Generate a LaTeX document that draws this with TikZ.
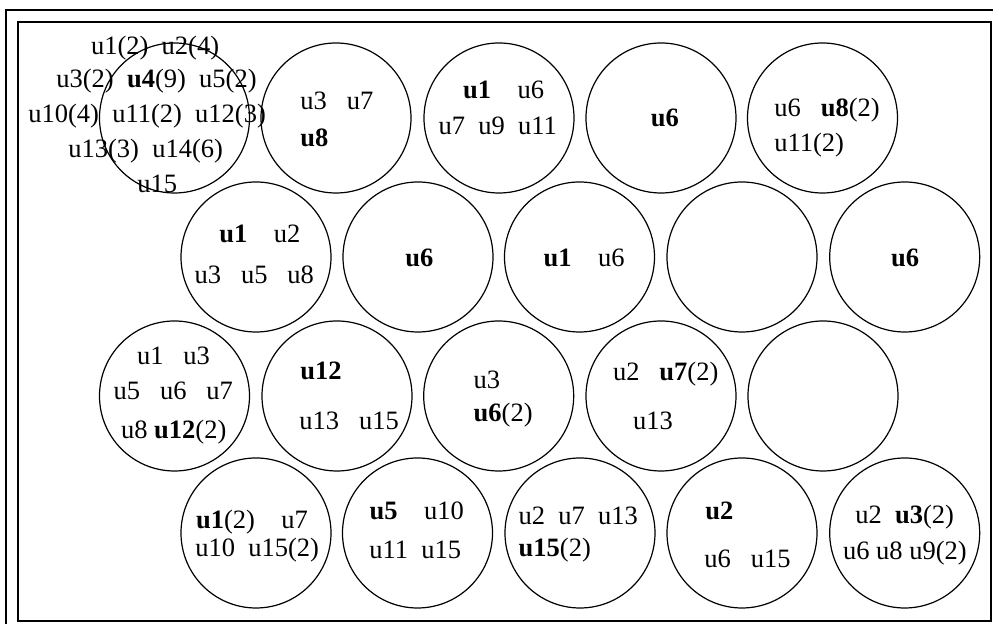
\documentclass[tikz,border=0pt]{standalone}
\usepackage{fontspec}
\setmainfont{Liberation Serif}
\usetikzlibrary{calc}

\begin{document}
\begin{tikzpicture}[x=0.5pt, y=-0.5pt,
                ring/.style={line width=0.6pt},
                frame/.style={line width=0.8pt},
                lbl/.style={anchor=base west, inner sep=0pt, font=\fontsize{13.25}{16}\selectfont}]
                \useasboundingbox (0,0) rectangle (993,624);
                \draw[frame] (6,624) -- (6,10) -- (993,10);
                \draw[frame] (18,22) rectangle (991,621);
                \coordinate (c11) at (174.5,118); \coordinate (c12) at (336,118);
                \coordinate (c13) at (499,118);   \coordinate (c14) at (661,118);
                \coordinate (c15) at (822.5,118);
                \coordinate (c21) at (256,257);   \coordinate (c22) at (418,257);
                \coordinate (c23) at (579.5,257); \coordinate (c24) at (742,257);
                \coordinate (c25) at (904.7,257);
                \coordinate (c31) at (174.5,396); \coordinate (c32) at (337,396);
                \coordinate (c33) at (498.7,396); \coordinate (c34) at (661,396);
                \coordinate (c35) at (823,396);
                \coordinate (c41) at (256,533);   \coordinate (c42) at (417.5,533);
                \coordinate (c43) at (580,533);   \coordinate (c44) at (742,533);
                \coordinate (c45) at (904.7,533);
                \draw[ring] (c11) circle (75) (c12) circle (75) (c13) circle (75) (c14) circle (75) (c15) circle (75);
                \draw[ring] (c21) circle (75) (c22) circle (75) (c23) circle (75) (c24) circle (75) (c25) circle (75);
                \draw[ring] (c31) circle (75) (c32) circle (75) (c33) circle (75) (c34) circle (75) (c35) circle (75);
                \draw[ring] (c41) circle (75) (c42) circle (75) (c43) circle (75) (c44) circle (75) (c45) circle (75);
                \node[lbl] (t11a) at (90.7,55) {u1(2)~~u2(4)};
                \node[lbl] (t11b) at (56,88) {u3(2)~~\textbf{u4}(9)~~u5(2)};
                \node[lbl] (t11c) at (28,123) {u10(4)~~u11(2)~~u12(3)};
                \node[lbl] (t11d) at (68,158) {u13(3)~~u14(6)};
                \node[lbl] (t11e) at (137,193) {u15};
                \node[lbl] (t12a) at (300,110) {u3~~~u7};
                \node[lbl] (t12b) at (300,147) {\textbf{u8}};
                \node[lbl] (t13a) at (462.7,99) {\textbf{u1}~~~~u6};
                \node[lbl] (t13b) at (438.3,135) {u7~~u9~~u11};
                \node[lbl] (t14a) at (650.5,127) {\textbf{u6}};
                \node[lbl] (t15a) at (774,116.7) {u6~~~\textbf{u8}(2)};
                \node[lbl] (t15b) at (774,151.7) {u11(2)};
                \node[lbl] (t21a) at (219,242.7) {\textbf{u1}~~~~u2};
                \node[lbl] (t21b) at (194.3,283.3) {u3~~~u5~~~u8};
                \node[lbl] (t22a) at (405,266.7) {\textbf{u6}};
                \node[lbl] (t23a) at (543.3,266.7) {\textbf{u1}~~~~u6};
                \node[lbl] (t25a) at (890.7,266.7) {\textbf{u6}};
                \node[lbl] (t31a) at (136.7,365) {u1~~~u3};
                \node[lbl] (t31b) at (113.3,400) {u5~~~u6~~~u7};
                \node[lbl] (t31c) at (120.7,438.3) {u8~\textbf{u12}(2)};
                \node[lbl] (t32a) at (300,380) {\textbf{u12}};
                \node[lbl] (t32b) at (299,430) {u13~~~u15};
                \node[lbl] (t33a) at (473.3,388.3) {u3};
                \node[lbl] (t33b) at (473.3,421.7) {\textbf{u6}(2)};
                \node[lbl] (t34a) at (612.7,380.7) {u2~~~\textbf{u7}(2)};
                \node[lbl] (t34b) at (632.7,429.3) {u13};
                \node[lbl] (t41a) at (195.7,528.3) {\textbf{u1}(2)~~~~u7};
                \node[lbl] (t41b) at (195,556.7) {u10~~u15(2)};
                \node[lbl] (t42a) at (369.3,520) {\textbf{u5}~~~~u10};
                \node[lbl] (t42b) at (369,558.3) {u11~~u15};
                \node[lbl] (t43a) at (518.3,525) {u2~~u7~~u13};
                \node[lbl] (t43b) at (518.3,556.7) {\textbf{u15}(2)};
                \node[lbl] (t44a) at (705,519.3) {\textbf{u2}};
                \node[lbl] (t44b) at (704,567.3) {u6~~~u15};
                \node[lbl] (t45a) at (855,523.3) {u2~~\textbf{u3}(2)};
                \node[lbl] (t45b) at (842.7,560) {u6~u8~u9(2)};
            \end{tikzpicture}
\end{document}
